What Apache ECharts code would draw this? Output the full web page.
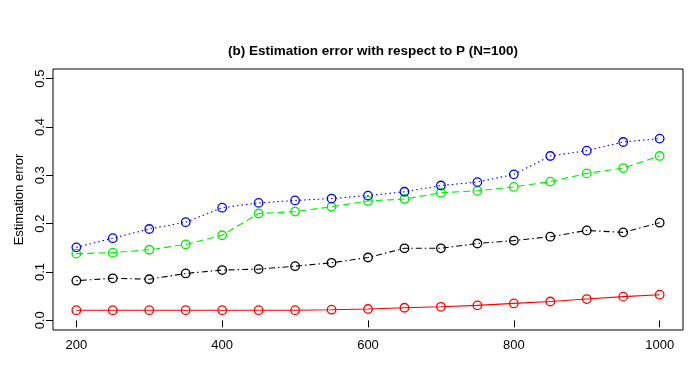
<!DOCTYPE html>
<html>
<head>
<meta charset="utf-8">
<script src="https://cdn.jsdelivr.net/npm/echarts@6/dist/echarts.min.js"></script>
<style>html,body{margin:0;padding:0;background:#fff}#c{width:692px;height:369px}</style>
</head>
<body>
<div id="c"></div>
<script>
var P = [200,250,300,350,400,450,500,550,600,650,700,750,800,850,900,950,1000];
var blueVals  = [0.151,0.170,0.189,0.203,0.233,0.243,0.248,0.252,0.258,0.266,0.279,0.286,0.302,0.340,0.351,0.369,0.376];
var greenVals = [0.138,0.140,0.146,0.157,0.176,0.221,0.225,0.235,0.247,0.251,0.264,0.268,0.276,0.287,0.304,0.315,0.340];
var blackVals = [0.082,0.087,0.085,0.097,0.104,0.106,0.112,0.119,0.130,0.149,0.149,0.159,0.165,0.173,0.186,0.182,0.202];
var redVals   = [0.021,0.021,0.021,0.021,0.021,0.021,0.021,0.022,0.0235,0.026,0.028,0.031,0.035,0.039,0.044,0.049,0.053];
var xTicks = [200,400,600,800,1000];
var yTicks = [0,0.1,0.2,0.3,0.4,0.5];
var titleText = '(b) Estimation error with respect to P (N=100)';
var yTitle = 'Estimation error';

function pairs(v){ return P.map(function(p,i){ return [p, v[i]]; }); }
function mk(name, vals, color, dash){
  return {
    name: name, type: 'line', data: pairs(vals),
    symbol: 'circle', symbolSize: 8.5, showSymbol: true,
    itemStyle: { color: 'rgba(255,255,255,0)', borderColor: color, borderWidth: 1.3 },
    lineStyle: { color: color, width: 1.1, type: dash },
    emphasis: { disabled: true }, animation: false
  };
}
var chart = echarts.init(document.getElementById('c'), null, {renderer: 'canvas'});
var font = 'Liberation Sans, Arial, Helvetica, sans-serif';
chart.setOption({
  backgroundColor: '#fff',
  animation: false,
  title: { text: titleText, left: 368, top: 39, textAlign: 'center',
    textStyle: { fontFamily: font, fontSize: 13.5, fontWeight: 'bold', color: '#000' } },
  grid: { left: 53, right: 9, top: 69, bottom: 39, show: true, borderColor: '#000', borderWidth: 1, backgroundColor: 'transparent' },
  xAxis: {
    type: 'value', min: 168, max: 1032,
    axisLine: { show: false },
    splitLine: { show: false },
    axisTick: { show: true, inside: false, length: 7, customValues: xTicks, lineStyle: { color: '#000' } },
    axisLabel: { customValues: xTicks, margin: 9, color: '#000', fontFamily: font, fontSize: 13,
      formatter: function(v){ return String(v); } }
  },
  yAxis: {
    type: 'value', min: -0.02, max: 0.52,
    name: yTitle, nameLocation: 'middle', nameGap: 23, nameRotate: 90,
    nameTextStyle: { fontFamily: font, fontSize: 13, color: '#000' },
    axisLine: { show: false },
    splitLine: { show: false },
    axisTick: { show: true, inside: false, length: 7, customValues: yTicks, lineStyle: { color: '#000' } },
    axisLabel: { customValues: yTicks, rotate: 90, margin: 6, color: '#000', fontFamily: font, fontSize: 13,
      formatter: function(v){ return v.toFixed(1); } }
  },
  series: [
    mk('red', redVals, '#ff0000', 'solid'),
    mk('black', blackVals, '#000000', [1.5,3,6,3]),
    mk('green', greenVals, '#00ee00', [7,4]),
    mk('blue', blueVals, '#0000ff', [1.5,3])
  ]
});
</script>
</body>
</html>
